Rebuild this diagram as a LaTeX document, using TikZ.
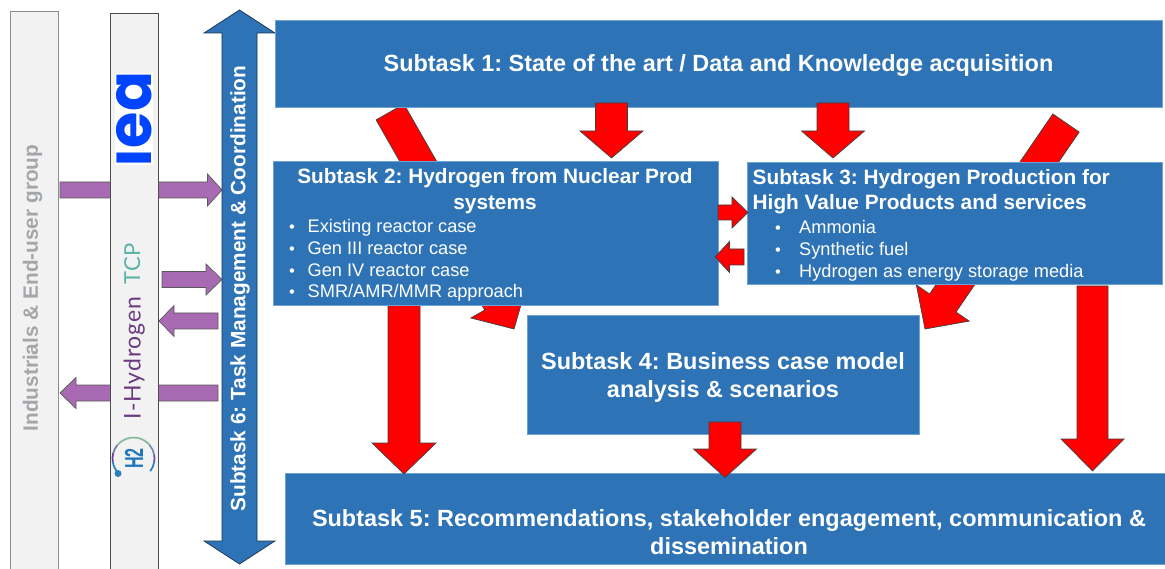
\documentclass[tikz,border=0pt]{standalone}
\usepackage{fontspec}
\setmainfont{Liberation Sans}
\newfontfamily\logofont{Poppins}
\newfontfamily\hyfont[LetterSpace=4]{Lato}
\usetikzlibrary{calc}
\definecolor{boxblue}{HTML}{2E73B6}
\definecolor{boxedge}{HTML}{6FA3D6}
\definecolor{purp}{HTML}{A96AB4}
\definecolor{logoblue}{HTML}{0044FF}
\definecolor{hypurple}{HTML}{6B3A80}
\definecolor{hyteal}{HTML}{5DB3A8}
\definecolor{barfill}{HTML}{F2F2F2}
\definecolor{greytext}{HTML}{A3A7AB}
\definecolor{arcA}{HTML}{2C7FBE}
\definecolor{arcB}{HTML}{6A3A9E}
\definecolor{arcC}{HTML}{6F7FA8}
\definecolor{arcD}{HTML}{84BBA0}
\definecolor{arcE}{HTML}{6F8FB0}
\definecolor{arcF}{HTML}{6A4FA0}
\definecolor{hblue}{HTML}{2277BB}
\frenchspacing
\tikzset{
  x=1pt,y=-1pt,
  bigbox/.style={draw=boxedge,line width=.8pt,fill=boxblue,inner sep=0pt,anchor=north west},
  redarrow/.style={fill=red,draw=black!75,line width=.7pt,line join=miter},
  purparrow/.style={fill=purp,draw=black!65,line width=.7pt,line join=miter},
  bluearrow/.style={fill=boxblue,draw=black!55!boxblue,line width=.7pt,line join=miter},
  bigtitle/.style={text=white,font=\fontsize{23.45}{28}\selectfont\bfseries,inner sep=0pt,anchor=base},
  title/.style={text=white,font=\fontsize{20.8}{28}\selectfont\bfseries,inner sep=0pt,anchor=base},
  titleleft/.style={title,anchor=base west},
  item/.style={text=white,font=\fontsize{18.2}{20}\selectfont,inner sep=0pt,anchor=base west},
  dotmark/.style={text=white,font=\fontsize{16.4}{20}\selectfont,inner sep=0pt,anchor=base},
  greybar/.style={fill=barfill,line width=1pt,anchor=north west,inner sep=0pt,minimum width=48pt},
}
% style, start, end, half shaft, head length, half head
\newcommand{\blockarrow}[6]{%
  \coordinate (hb) at ($(#3)!#5!(#2)$);
  \draw[#1] ($(#2)!#4!90:(#3)$) -- ($(hb)!#4!-90:(#2)$) -- ($(hb)!#6!-90:(#2)$) -- (#3)
     -- ($(hb)!#6!90:(#2)$) -- ($(hb)!#4!90:(#2)$) -- ($(#2)!#4!-90:(#3)$) -- cycle;
}
\begin{document}
\begin{tikzpicture}
\useasboundingbox[fill=white] (0,0) rectangle (1165,569);

% grey end-user bar and first purple arrows
\node[greybar,draw=black!45,minimum height=562pt] (users) at (10,11) {};
\node[rotate=90,text=greytext,font=\fontsize{20.8}{24}\selectfont\bfseries,inner sep=0pt] (userstext) at (32.5,288) {Industrials \& End-user group};

\coordinate (p1s) at (60,190); \coordinate (p1e) at (222,190);
\blockarrow{purparrow}{p1s}{p1e}{8pt}{14.5pt}{16pt}
\coordinate (p4s) at (218,393); \coordinate (p4e) at (60,393);
\blockarrow{purparrow}{p4s}{p4e}{8pt}{16pt}{15.5pt}

% IEA / Hydrogen TCP bar
\node[greybar,draw=black!70,minimum height=560pt] (tcp) at (110,13) {};
\fill[white] (115,73) rectangle (153,165);
\node[rotate=90,text=logoblue,inner sep=0pt,font=\logofont\fontsize{62}{70}\selectfont\bfseries] (ieatext) at (134,119.5) {\scalebox{.95}[1]{ıea}};
\node[rotate=90,text=hyteal,inner sep=0pt,font=\hyfont\fontsize{22}{26}\selectfont,anchor=base] (tcptext) at (140,264) {TCP};
\node[rotate=90,text=hypurple,inner sep=0pt,font=\hyfont\fontsize{23}{26}\selectfont,anchor=base] (hytext) at (140.5,358) {I-Hydrogen};
\foreach \a/\b/\c in {223/190/arcA,190/165/arcB,165/140/arcC,140/40/arcD,40/10/arcE,10/-10/arcF,-10/-37/arcA}
  \draw[color=\c,line width=1.7pt] (133.5,458.5) ++(\a:21pt) arc[start angle=\a,end angle=\b,radius=21pt];
\node[circle,fill=arcA,minimum size=7pt,inner sep=0pt] (h2dot) at (118,473.5) {};
\node[rotate=90,text=hblue,inner sep=0pt,font=\fontsize{26}{28}\selectfont\bfseries] (h2text) at (134,458.5) {\scalebox{.62}[1]{H2}};

% other purple arrows
\coordinate (p2s) at (162,279.5); \coordinate (p2e) at (222,279.5);
\blockarrow{purparrow}{p2s}{p2e}{8pt}{16pt}{15.5pt}
\coordinate (p3s) at (218,321); \coordinate (p3e) at (159,321);
\blockarrow{purparrow}{p3s}{p3e}{8pt}{15pt}{15.5pt}

% double blue arrow
\coordinate (dn) at (239.5,10); \coordinate (ds) at (239.5,564);
\draw[bluearrow] (dn) -- (275,33) -- (257,33) -- (257,541) -- (275,541) -- (ds) -- (204,541) -- (222,541) -- (222,33) -- (204,33) -- cycle;
\node[rotate=90,text=white,font=\fontsize{20.8}{24}\selectfont\bfseries,inner sep=0pt] (t6) at (240,288.5) {Subtask 6: Task Management \& Coordination};

% diagonal red arrows pass behind every box
\coordinate (r3s) at (390,112); \coordinate (r3e) at (514,329);
\blockarrow{redarrow}{r3s}{r3e}{16pt}{31pt}{32pt}
\coordinate (r4s) at (1066,123); \coordinate (r4e) at (925,329);
\blockarrow{redarrow}{r4s}{r4e}{16pt}{31.5pt}{32pt}

% lower and top boxes
\node[bigbox,minimum width=887pt,minimum height=87pt] (b1) at (275,20) {};
\node[bigbox,minimum width=392pt,minimum height=119pt] (b4) at (527,315) {};
\node[bigbox,minimum width=885pt,minimum height=90.5pt] (b5) at (285,473) {};

% straight red arrows lie on top of those boxes
\coordinate (r1s) at (611.5,103); \coordinate (r1e) at (611.5,158);
\blockarrow{redarrow}{r1s}{r1e}{16pt}{27pt}{31.5pt}
\coordinate (r2s) at (833,103); \coordinate (r2e) at (833,158);
\blockarrow{redarrow}{r2s}{r2e}{16pt}{27pt}{31.5pt}
\coordinate (r5s) at (404,300); \coordinate (r5e) at (404,474);
\blockarrow{redarrow}{r5s}{r5e}{16pt}{31pt}{32pt}
\coordinate (r6s) at (1092.5,286); \coordinate (r6e) at (1092.5,471);
\blockarrow{redarrow}{r6s}{r6e}{15.5pt}{32pt}{31.5pt}
\coordinate (r7s) at (725,422); \coordinate (r7e) at (725,477.5);
\blockarrow{redarrow}{r7s}{r7e}{16pt}{28.5pt}{31.5pt}

% middle boxes
\node[bigbox,minimum width=445pt,minimum height=144pt] (b2) at (273,161) {};
\node[bigbox,minimum width=415pt,minimum height=122pt] (b3) at (747,162) {};

% small red arrows between boxes 2 and 3
\coordinate (r8s) at (718,212.5); \coordinate (r8e) at (748,212.5);
\blockarrow{redarrow}{r8s}{r8e}{7.5pt}{16pt}{15.5pt}
\coordinate (r9s) at (744,257); \coordinate (r9e) at (715,257);
\blockarrow{redarrow}{r9s}{r9e}{8pt}{14.5pt}{15.5pt}

% box texts
\node[bigtitle] (t1) at (718.5,71.7) {Subtask 1: State of the art / Data and Knowledge acquisition};
\node[title] (t2a) at (495,184) {Subtask 2: Hydrogen from Nuclear Prod};
\node[title] (t2b) at (495,209.5) {systems};
\foreach \n/\y/\s in {a/232.8/{Existing reactor case},b/254.3/{Gen III reactor case},c/276.2/{Gen IV reactor case},d/297.8/{SMR/AMR/MMR approach}}{
  \node[dotmark] (d2\n) at (292,\y) {•};
  \node[item] (i2\n) at (307.5,\y) {\s};
}
\node[titleleft] (t3a) at (752.5,185) {Subtask 3: Hydrogen Production for};
\node[titleleft] (t3b) at (752.5,210) {High Value Products and services};
\foreach \n/\y/\s in {a/233.8/{Ammonia},b/255.8/{Synthetic fuel},c/277.8/{Hydrogen as energy storage media}}{
  \node[dotmark] (d3\n) at (778,\y) {•};
  \node[item] (i3\n) at (799,\y) {\s};
}
\node[bigtitle] (t4a) at (723,369.7) {Subtask 4: Business case model};
\node[bigtitle] (t4b) at (723,397.3) {analysis \& scenarios};
\node[bigtitle] (t5a) at (729,526.7) {Subtask 5: Recommendations, stakeholder engagement, communication \&};
\node[bigtitle] (t5b) at (729,554.7) {dissemination};
\end{tikzpicture}
\end{document}
